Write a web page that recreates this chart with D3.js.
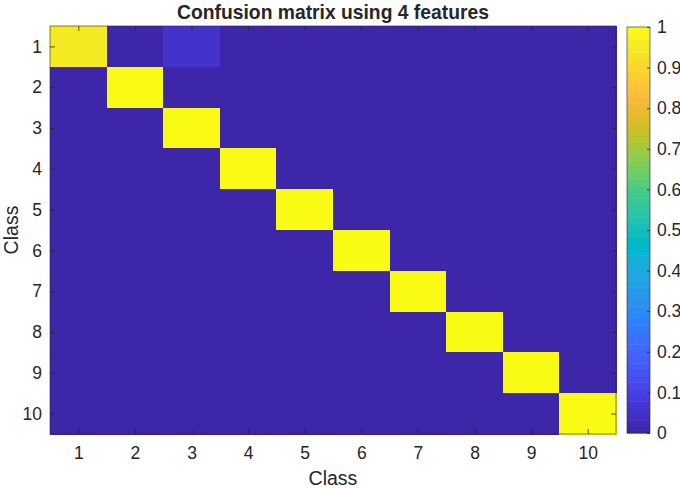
<!DOCTYPE html>
<html>
<head>
<meta charset="utf-8">
<script src="https://cdn.jsdelivr.net/npm/d3@7"></script>
<style>
  body { margin: 0; background: #fff; }
  text { font-family: "Liberation Sans", Arial, Helvetica, sans-serif; fill: #262626; }
</style>
</head>
<body>
<svg id="chart" width="680" height="488"></svg>
<script>
// classes on both axes
const classes = [1, 2, 3, 4, 5, 6, 7, 8, 9, 10];

// confusion matrix rows (true class) x columns (predicted class)
const matrix = [
  [0.94, 0, 0.06, 0, 0, 0, 0, 0, 0, 0],
  [0, 1, 0, 0, 0, 0, 0, 0, 0, 0],
  [0, 0, 1, 0, 0, 0, 0, 0, 0, 0],
  [0, 0, 0, 1, 0, 0, 0, 0, 0, 0],
  [0, 0, 0, 0, 1, 0, 0, 0, 0, 0],
  [0, 0, 0, 0, 0, 1, 0, 0, 0, 0],
  [0, 0, 0, 0, 0, 0, 1, 0, 0, 0],
  [0, 0, 0, 0, 0, 0, 0, 1, 0, 0],
  [0, 0, 0, 0, 0, 0, 0, 0, 1, 0],
  [0, 0, 0, 0, 0, 0, 0, 0, 0, 1],
];

// colorbar ticks
const cbar_ticks = [0, 0.1, 0.2, 0.3, 0.4, 0.5, 0.6, 0.7, 0.8, 0.9, 1];

// parula(64)
const parula = [
  [0.2422, 0.1504, 0.6603], [0.2504, 0.165, 0.7076], [0.2578, 0.1818, 0.7511], [0.2647, 0.1978, 0.7952],
  [0.2706, 0.2147, 0.8364], [0.2751, 0.2342, 0.871], [0.2783, 0.2559, 0.8991], [0.2803, 0.2782, 0.9221],
  [0.2813, 0.3006, 0.9414], [0.281, 0.3228, 0.9579], [0.2795, 0.3447, 0.9717], [0.276, 0.3667, 0.9829],
  [0.2699, 0.3892, 0.9906], [0.2602, 0.4123, 0.9952], [0.244, 0.4358, 0.9988], [0.2206, 0.4603, 0.9973],
  [0.1963, 0.4847, 0.9892], [0.1834, 0.5074, 0.9798], [0.1786, 0.5289, 0.9682], [0.1764, 0.5499, 0.952],
  [0.1687, 0.5703, 0.9359], [0.154, 0.5902, 0.9218], [0.146, 0.6091, 0.9079], [0.138, 0.6276, 0.8973],
  [0.1248, 0.6459, 0.8883], [0.1113, 0.6635, 0.8763], [0.0952, 0.6798, 0.8598], [0.0689, 0.6948, 0.8394],
  [0.0297, 0.7082, 0.8163], [0.0036, 0.7203, 0.7917], [0.0067, 0.7312, 0.766], [0.0433, 0.7411, 0.7394],
  [0.0964, 0.75, 0.712], [0.1408, 0.7584, 0.6842], [0.1717, 0.767, 0.6554], [0.1938, 0.7758, 0.6251],
  [0.2161, 0.7843, 0.5923], [0.247, 0.7918, 0.5567], [0.2906, 0.7973, 0.5188], [0.3406, 0.8008, 0.4789],
  [0.3909, 0.8029, 0.4354], [0.4456, 0.8024, 0.3909], [0.5044, 0.7993, 0.348], [0.5616, 0.7942, 0.3045],
  [0.6174, 0.7876, 0.2612], [0.672, 0.7793, 0.2227], [0.7242, 0.7698, 0.191], [0.7738, 0.7598, 0.1646],
  [0.8203, 0.7498, 0.1535], [0.8634, 0.7406, 0.1596], [0.9035, 0.733, 0.1774], [0.9393, 0.7288, 0.21],
  [0.9728, 0.7298, 0.2394], [0.9956, 0.7434, 0.2371], [0.997, 0.7659, 0.2199], [0.9952, 0.7893, 0.2028],
  [0.9892, 0.8136, 0.1885], [0.9786, 0.8386, 0.1766], [0.9676, 0.8639, 0.1643], [0.961, 0.889, 0.1537],
  [0.9597, 0.9135, 0.1423], [0.9628, 0.9373, 0.1265], [0.9691, 0.9606, 0.1064], [0.9769, 0.9839, 0.0805],
].map(function (c) {
  return d3.rgb(c[0] * 255, c[1] * 255, c[2] * 255).formatHex();
});

const ink = "#262626";
const plot = { left: 50, right: 616, top: 26, bottom: 434 };
const cbar = { left: 627, right: 650, top: 27, bottom: 433 };

const svg = d3.select("#chart");

// scales
const x_scale = d3.scaleLinear().domain([0.5, 10.5]).range([plot.left, plot.right]);
const y_scale = d3.scaleLinear().domain([0.5, 10.5]).range([plot.top, plot.bottom]);
const color = d3.scaleQuantize().domain([0, 1]).range(parula);

// cells
const cells = [];
matrix.forEach(function (row, i) {
  row.forEach(function (v, j) {
    cells.push({ r: classes[i], c: classes[j], v: v });
  });
});

svg
  .append("g")
  .attr("class", "cells")
  .attr("shape-rendering", "crispEdges")
  .selectAll(null)
  .data(cells)
  .enter()
  .append("rect")
  .attr("x", function (d) { return x_scale(d.c - 0.5); })
  .attr("y", function (d) { return y_scale(d.r - 0.5); })
  .attr("width", x_scale(1.5) - x_scale(0.5) + 0.5)
  .attr("height", y_scale(1.5) - y_scale(0.5) + 0.5)
  .attr("fill", function (d) { return color(d.v); });

// axes (ticks inward on all four sides)
function style_axis(g) {
  g.select(".domain").remove();
  g.selectAll("line").attr("stroke", ink).attr("stroke-width", 0.8);
  g.selectAll("text").attr("font-size", 17.5).attr("font-family", null).attr("fill", ink);
}

svg
  .append("g")
  .attr("transform", "translate(0," + plot.bottom + ")")
  .call(d3.axisBottom(x_scale).tickValues(classes).tickSize(-5).tickPadding(13))
  .call(style_axis);

svg
  .append("g")
  .attr("transform", "translate(0," + plot.top + ")")
  .call(d3.axisTop(x_scale).tickValues(classes).tickSize(-5).tickFormat(""))
  .call(style_axis);

svg
  .append("g")
  .attr("transform", "translate(" + plot.left + ",0)")
  .call(d3.axisLeft(y_scale).tickValues(classes).tickSize(-5).tickPadding(8))
  .call(style_axis);

svg
  .append("g")
  .attr("transform", "translate(" + plot.right + ",0)")
  .call(d3.axisRight(y_scale).tickValues(classes).tickSize(-5).tickFormat(""))
  .call(style_axis);

// axes box
svg
  .append("rect")
  .attr("x", plot.left)
  .attr("y", plot.top)
  .attr("width", plot.right - plot.left)
  .attr("height", plot.bottom - plot.top)
  .attr("fill", "none")
  .attr("stroke", ink)
  .attr("stroke-width", 0.6);

// colorbar
const c_scale = d3.scaleLinear().domain([0, 1]).range([cbar.bottom, cbar.top]);
const band = 1 / parula.length;

svg
  .append("g")
  .attr("class", "cbar")
  .selectAll(null)
  .data(parula)
  .enter()
  .append("rect")
  .attr("x", cbar.left)
  .attr("width", cbar.right - cbar.left)
  .attr("y", function (d, i) { return c_scale((i + 1) * band); })
  .attr("height", function (d, i) { return c_scale(i * band) - c_scale((i + 1) * band) + 0.5; })
  .attr("fill", function (d) { return d; });

svg
  .append("rect")
  .attr("x", cbar.left)
  .attr("y", cbar.top)
  .attr("width", cbar.right - cbar.left)
  .attr("height", cbar.bottom - cbar.top)
  .attr("fill", "none")
  .attr("stroke", ink)
  .attr("stroke-width", 0.6);

svg
  .append("g")
  .attr("transform", "translate(" + cbar.right + ",0)")
  .call(
    d3.axisRight(c_scale)
      .tickValues(cbar_ticks)
      .tickSize(-3)
      .tickPadding(7)
      .tickFormat(function (d) { return String(+d.toFixed(1)); })
  )
  .call(style_axis);

// title and labels
svg
  .append("text")
  .attr("x", (plot.left + plot.right) / 2)
  .attr("y", 19)
  .attr("text-anchor", "middle")
  .attr("font-size", 19.3)
  .attr("font-weight", "bold")
  .attr("fill", "#000")
  .text("Confusion matrix using 4 features");

svg
  .append("text")
  .attr("x", (plot.left + plot.right) / 2)
  .attr("y", 485)
  .attr("text-anchor", "middle")
  .attr("font-size", 19.5)
  .text("Class");

svg
  .append("text")
  .attr("transform", "translate(18," + (plot.top + plot.bottom) / 2 + ") rotate(-90)")
  .attr("text-anchor", "middle")
  .attr("font-size", 19.5)
  .text("Class");
</script>
</body>
</html>
